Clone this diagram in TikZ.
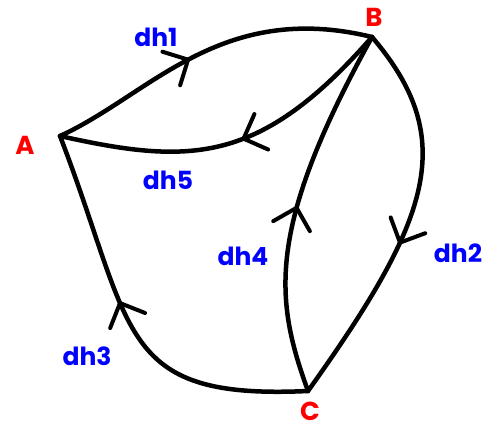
\documentclass[tikz,border=0pt]{standalone}
\usepackage{fontspec}
\setmainfont{Poppins}
\usetikzlibrary{decorations.markings}

\tikzset{
  edge/.style={line width=4.5pt, line cap=round, line join=round},
  midarrow/.style={postaction={decorate, decoration={markings,
      mark=at position #1 with {\draw[line width=4pt, line cap=round, line join=round]
        (-19pt,19pt) -- (0,0) -- (-19pt,-19pt);}}}},
  vlabel/.style={text=red, font=\fontsize{26}{28}\selectfont\bfseries},
  elabel/.style={text=blue, font=\fontsize{25}{27}\selectfont\bfseries}
}

\begin{document}
\begin{tikzpicture}[x=1pt, y=1pt]
    \useasboundingbox (0,0) rectangle (492,-428);
    % Knoten
    \coordinate (A) at (60,-136);
    \coordinate (B) at (372,-37);
    \coordinate (C) at (308,-391);
    \node[vlabel] (la) at (25,-145) {A};
    \node[vlabel] (lb) at (374,-17) {B};
    \node[vlabel] (lc) at (310,-411) {C};
    % Kanten
    \draw[edge, midarrow=0.44] (A) .. controls (150,-95) and (220,0) .. (B);
    \draw[edge, midarrow=0.47] (B) .. controls (260,-165) and (190,-165) .. (A);
    \draw[edge, midarrow=0.56] (B) .. controls (460,-140) and (430,-220) .. (C);
    \draw[edge, midarrow=0.5] (C) .. controls (275,-300) and (265,-230) .. (B);
    \draw[edge, midarrow=0.56] (C) .. controls (115,-400) and (135,-330) .. (A);
    % Beschriftungen
    \node[elabel] (d1) at (156,-37) {dh1};
    \node[elabel] (d5) at (168,-180) {dh5};
    \node[elabel] (d4) at (243,-256) {dh4};
    \node[elabel] (d2) at (458,-253) {dh2};
    \node[elabel] (d3) at (87,-356) {dh3};
\end{tikzpicture}
\end{document}
